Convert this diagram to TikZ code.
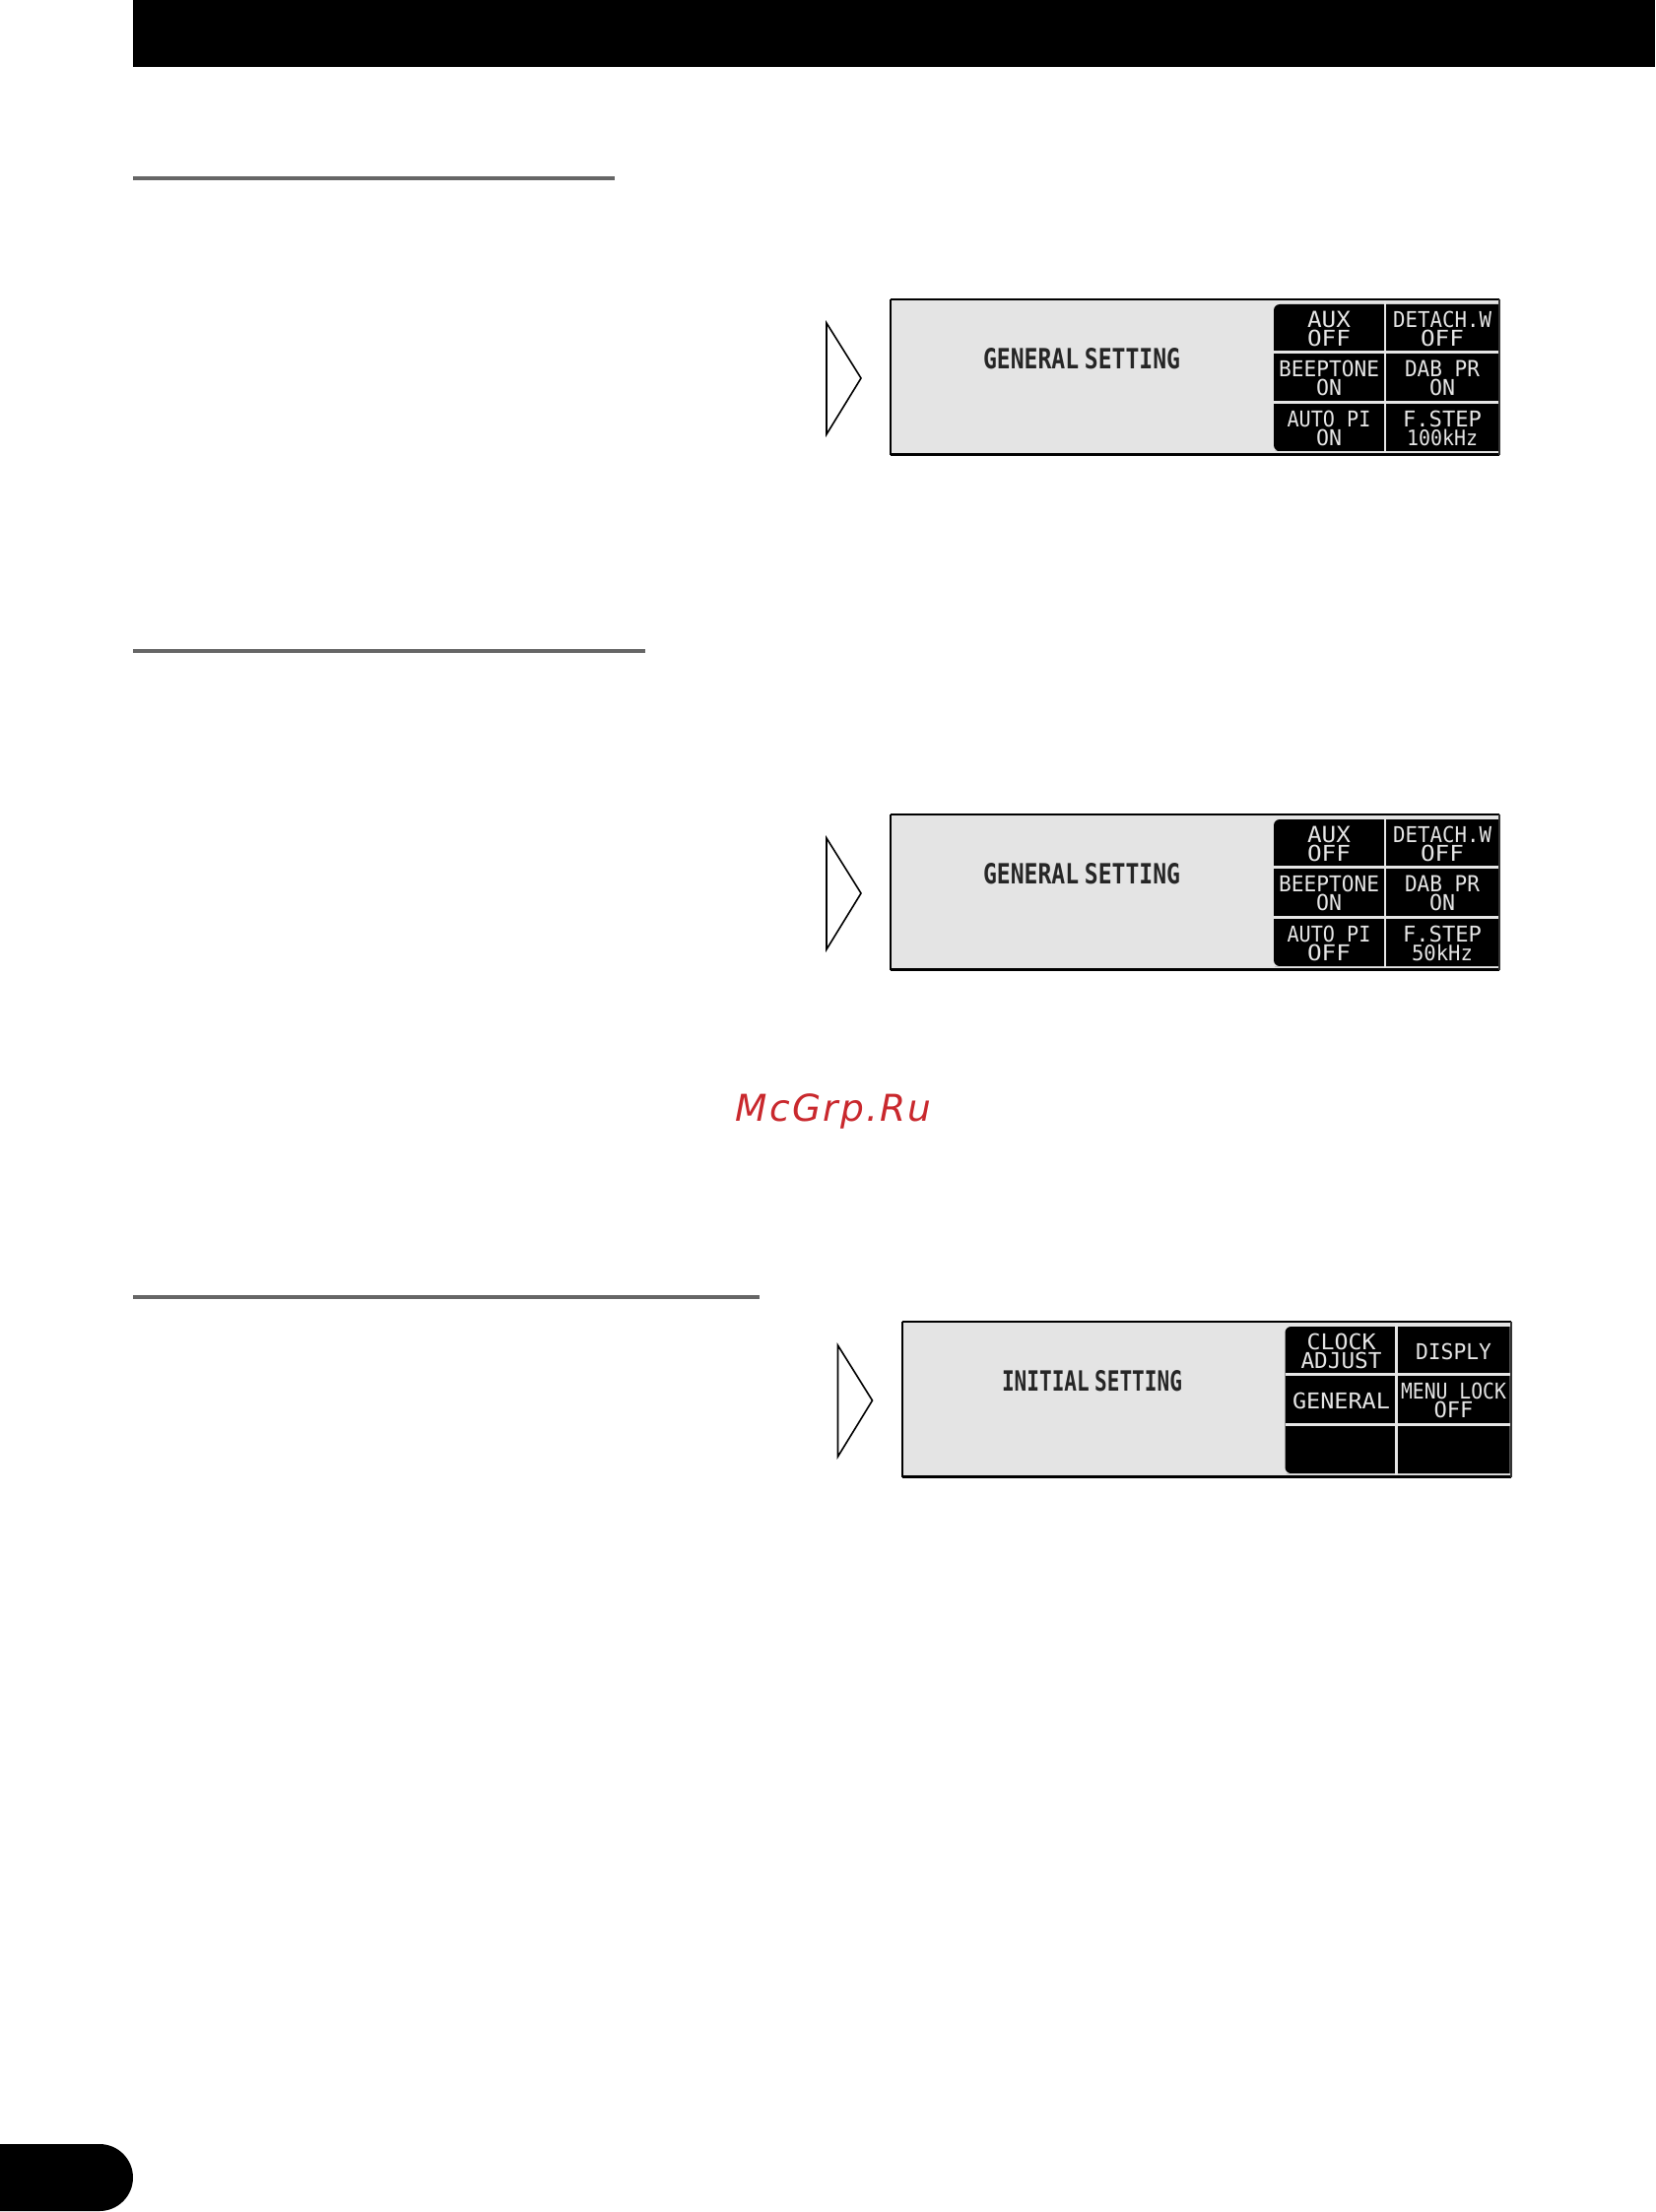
\documentclass[tikz,border=0pt]{standalone}
\usepackage{graphicx}
\usepackage{fontspec}
\setmainfont{Liberation Sans}
\newfontfamily\lcdfont{DejaVu Sans Mono}
\newfontfamily\wmfont[LetterSpace=6]{DejaVu Sans}
\newdimen\lcdpx \lcdpx=.5pt
\newcommand\lcd[2]{\resizebox{#1\lcdpx}{8.2pt}{\lcdfont #2}}
\newcommand\lcdtitle[2]{\resizebox{#1\lcdpx}{10.5pt}{\lcdfont\bfseries #2}}
\definecolor{panelgray}{HTML}{E4E4E4}
\definecolor{rulegray}{HTML}{666666}
\definecolor{lcdlight}{HTML}{E6E6E6}
\definecolor{wmred}{HTML}{C9282D}
\tikzset{
  x=.5pt,y=-.5pt,
  ruleline/.style={draw=rulegray,line width=2pt},
  arrowshape/.style={draw=black,fill=white,line width=.8pt,line join=miter},
  gridline/.style={draw=lcdlight,line width=1.1pt},
  cellnode/.style={text=lcdlight,align=center,inner sep=0pt,font=\fontsize{8}{9.3}\selectfont},
  titlenode/.style={text=black!85,inner sep=0pt},
}
% #1 prefix, #2 title width, #3 title text, #4 title x
\newcommand\panelbase[4]{%
  \draw[arrowshape] (839,328) -- (874,384) -- (839,441) -- cycle;
  \fill[panelgray] (904,304) rectangle (1522,462);
  \fill[black] (1521,309) -- (1300,309) [rounded corners=3pt] -- (1293,309) -- (1293,458) -- (1300,458) [sharp corners] -- (1521,458) -- cycle;
  \draw[gridline] (1406,305) -- (1406,461);
  \draw[gridline] (1293,357.5) -- (1521,357.5);
  \draw[gridline] (1293,408.5) -- (1521,408.5);
  \draw[black,line width=1pt] (904,304) -- (1522,304);
  \draw[black,line width=1pt] (904,304) -- (904,462);
  \draw[black,line width=1.6pt] (904,461.5) -- (1522,461.5);
  \draw[black!80,line width=1pt] (1522,304) -- (1522,462);
  \node[titlenode] (#1title) at (#4,364) {\lcdtitle{#2}{#3}};
}
\newcommand\lcell[4]{\node[cellnode] (#1) at (#2,#3) {#4};}
\begin{document}
\begin{tikzpicture}
\useasboundingbox (0,0) rectangle (1680,2246);
\fill[white] (0,0) rectangle (1680,2246);
\fill[black] (135,0) rectangle (1680,68);
\draw[ruleline] (135,181) -- (623.5,181);
\draw[ruleline] (135,661) -- (655,661);
\draw[ruleline] (135,1316.5) -- (771,1316.5);
\fill[black] (0,2177) -- (101,2177) arc[start angle=-90,end angle=90,radius=34] -- (0,2245) -- cycle;
\node[text=wmred,inner sep=0pt] (wm) at (846,1128) {\resizebox{199\lcdpx}{!}{\wmfont\itshape McGrp.Ru}};

\begin{scope}
  \panelbase{a}{200}{GENERAL\hspace{.25em}SETTING}{1098}
  \lcell{a1}{1349}{334}{\lcd{44}{AUX}\\\lcd{44}{OFF}}
  \lcell{a2}{1464}{334}{\lcd{100}{DETACH.W}\\\lcd{44}{OFF}}
  \lcell{a3}{1349}{384}{\lcd{102}{BEEPTONE}\\\lcd{26}{ON}}
  \lcell{a4}{1464}{384}{\lcd{76}{DAB PR}\\\lcd{26}{ON}}
  \lcell{a5}{1349}{435}{\lcd{85}{AUTO PI}\\\lcd{26}{ON}}
  \lcell{a6}{1464}{435}{\lcd{80}{F.STEP}\\\lcd{72}{100kHz}}
\end{scope}
\begin{scope}[shift={(0,523)}]
  \panelbase{b}{200}{GENERAL\hspace{.25em}SETTING}{1098}
  \lcell{b1}{1349}{334}{\lcd{44}{AUX}\\\lcd{44}{OFF}}
  \lcell{b2}{1464}{334}{\lcd{100}{DETACH.W}\\\lcd{44}{OFF}}
  \lcell{b3}{1349}{384}{\lcd{102}{BEEPTONE}\\\lcd{26}{ON}}
  \lcell{b4}{1464}{384}{\lcd{76}{DAB PR}\\\lcd{26}{ON}}
  \lcell{b5}{1349}{435}{\lcd{85}{AUTO PI}\\\lcd{44}{OFF}}
  \lcell{b6}{1464}{435}{\lcd{80}{F.STEP}\\\lcd{62}{50kHz}}
\end{scope}
\begin{scope}[shift={(11.5,1038)}]
  \panelbase{c}{183}{INITIAL\hspace{.25em}SETTING}{1097}
  \lcell{c1}{1350}{334}{\lcd{70}{CLOCK}\\\lcd{82}{ADJUST}}
  \lcell{c2}{1464}{334}{\lcd{77}{DISPLY}}
  \lcell{c3}{1350}{384}{\lcd{99}{GENERAL}}
  \lcell{c4}{1464}{384}{\lcd{107}{MENU LOCK}\\\lcd{40}{OFF}}
\end{scope}
\end{tikzpicture}
\end{document}
